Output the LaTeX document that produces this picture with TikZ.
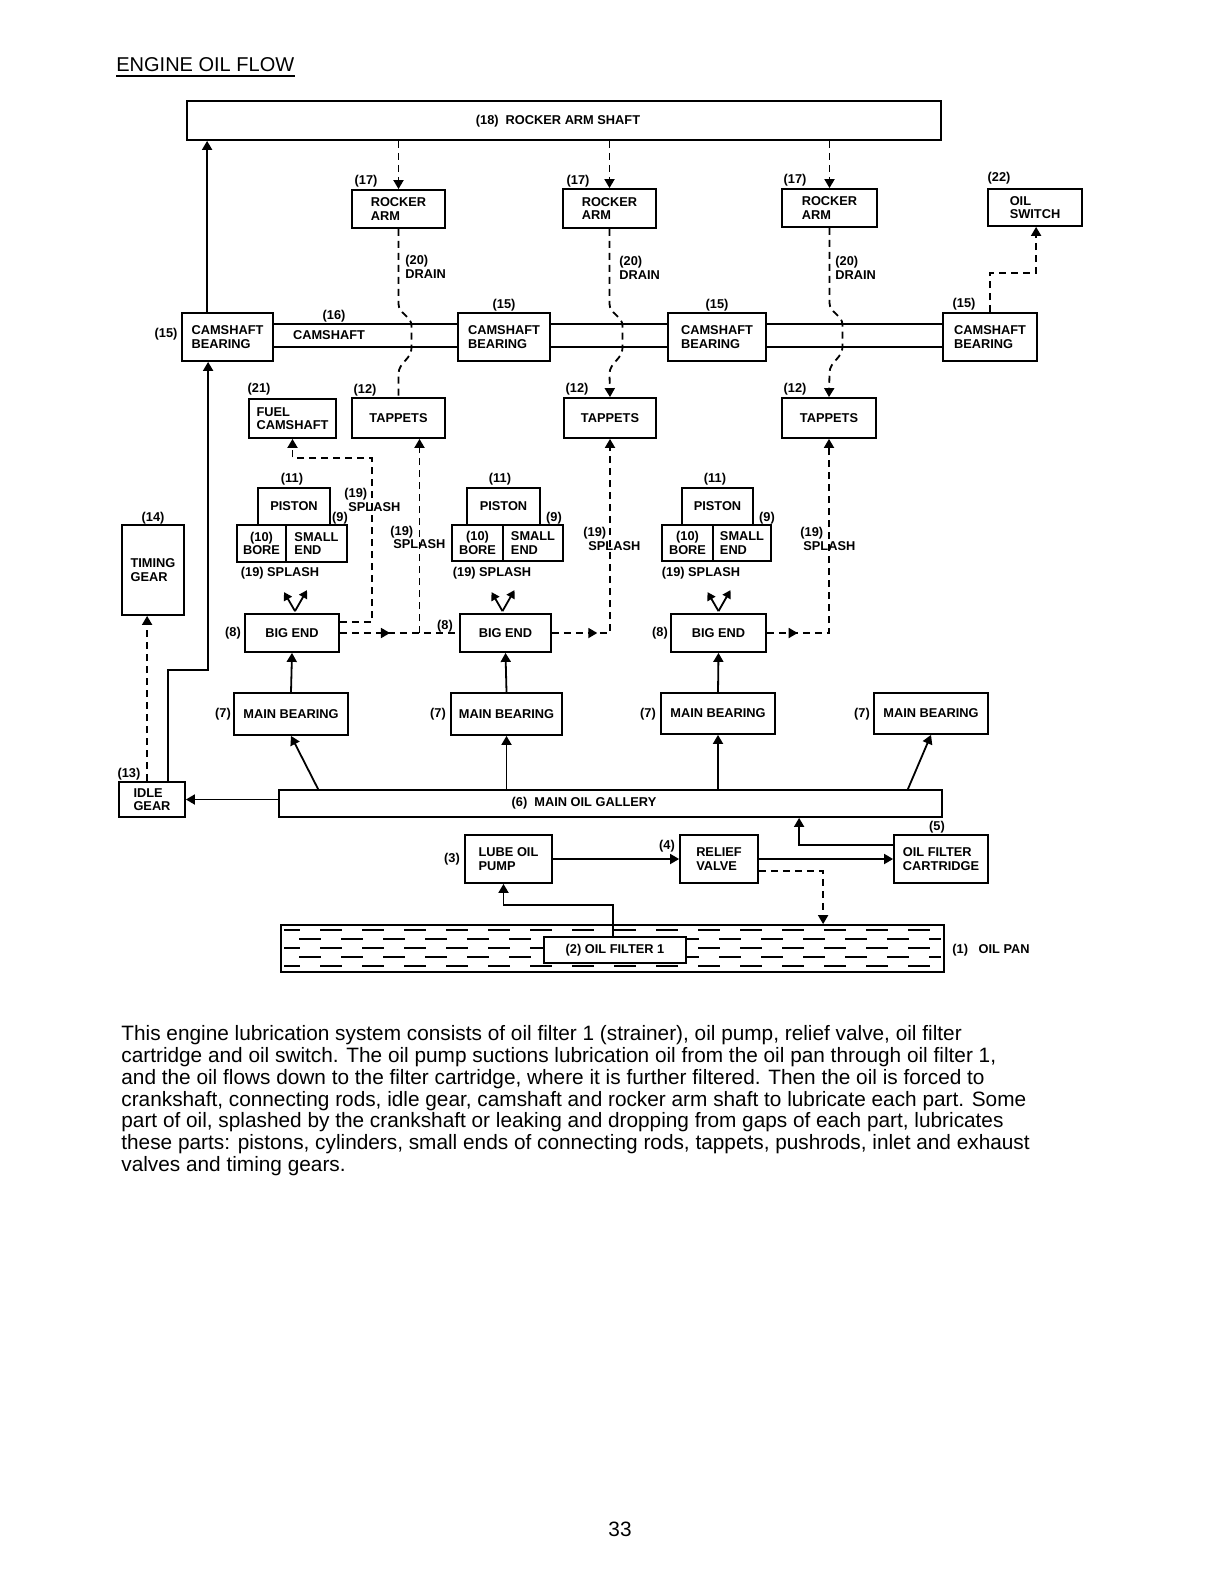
\documentclass[tikz,border=0pt]{standalone}
\usepackage{fontspec}
\setmainfont{Liberation Sans}
\usetikzlibrary{arrows.meta,calc,decorations.markings}
\newcommand\lblfont{\fontsize{6.4}{6.7}\selectfont\bfseries}
\newcommand\bx[6]{\node[box, minimum width={(#4-#2)*0.5pt}, minimum height={(#5-#3)*0.5pt}] (#1) at ({(#2+#4)/2},{(#3+#5)/2}) {#6};}
\begin{document}
\begin{tikzpicture}[x=0.5pt,y=-0.5pt,
  lw/.style={line width=0.9pt},
  box/.style={draw, lw, fill=white, inner sep=0pt, font=\lblfont, align=left},
  cbox/.style={box, align=center},
  lbl/.style={font=\lblfont, inner sep=0pt},
  lblw/.style={lbl, anchor=west, align=left},
  flow/.style={lw, -{Triangle[length=4.5pt,width=5pt]}},
  dsh/.style={lw, dash pattern=on 3.5pt off 2.5pt},
  dflow/.style={dsh, -{Triangle[length=4.5pt,width=5pt]}},
  midarr/.style={postaction={decorate}, decoration={markings, mark=at position #1 with {\arrow{Triangle[length=4.5pt,width=5pt]}}}},
  body/.style={font=\fontsize{10.4}{11}\selectfont, inner sep=0pt, anchor=base west}
]
\useasboundingbox (0,0) rectangle (1224,1584);
\fill[white] (0,0) rectangle (1224,1584);

% title
\node[anchor=base west, inner sep=0pt, font=\fontsize{10}{12}\selectfont] (title) at (116,72) {ENGINE OIL FLOW};
\draw[line width=0.6pt] ($(title.base west)+(0,4)$) -- ($(title.base east)+(0,4)$);

% boxes
\bx{shaft}{187}{101}{941}{140}{}
\node[lbl] (shafttxt) at (558,121) {(18)\ \ ROCKER ARM SHAFT};
\bx{ra1}{352}{190}{445}{228}{ROCKER\\ARM}
\bx{ra2}{563}{189}{656}{228}{ROCKER\\ARM}
\bx{ra3}{782}{189}{877}{227}{ROCKER\\ARM}
\bx{osw}{988}{189}{1082}{226}{OIL\\SWITCH}

% camshaft lines
\draw[lw] (182,324) coordinate (cs0) -- (1037,324);
\draw[lw] (182,347) -- (1037,347);

\bx{brg1}{182}{313}{273}{361}{CAMSHAFT\\BEARING}
\bx{brg2}{458}{313}{550}{361}{CAMSHAFT\\BEARING}
\bx{brg3}{668}{313}{766}{361}{CAMSHAFT\\BEARING}
\bx{brg4}{943}{313}{1037}{361}{CAMSHAFT\\BEARING}

\bx{fuel}{249}{399}{336}{438}{FUEL\\CAMSHAFT}
\bx{tap1}{352}{398}{445}{438}{TAPPETS}
\bx{tap2}{564}{398}{656}{438}{TAPPETS}
\bx{tap3}{782}{398}{876}{438}{TAPPETS}

\bx{timing}{122}{525}{184}{615}{TIMING\\GEAR}

\bx{pis1}{258}{488}{330}{525}{PISTON}
\node[cbox, minimum width={49*0.5pt}, minimum height={37*0.5pt}] (bore1) at (261.5,543.5) {(10)\\BORE};
\bx{sme1}{286}{525}{347}{562}{SMALL\\END}
\bx{pis2}{467}{488}{540}{525}{PISTON}
\node[cbox, minimum width={51*0.5pt}, minimum height={36*0.5pt}] (bore2) at (477.5,543) {(10)\\BORE};
\bx{sme2}{503}{525}{563}{561}{SMALL\\END}
\bx{pis3}{682}{488}{753}{525}{PISTON}
\node[cbox, minimum width={51*0.5pt}, minimum height={36*0.5pt}] (bore3) at (687.5,543) {(10)\\BORE};
\bx{sme3}{713}{525}{771}{561}{SMALL\\END}

\bx{be1}{245}{614}{339}{652}{BIG END}
\bx{be2}{460}{614}{551}{652}{BIG END}
\bx{be3}{671}{614}{766}{652}{BIG END}

\bx{mb1}{234}{693}{348}{735}{MAIN BEARING}
\bx{mb2}{451}{693}{562}{735}{MAIN BEARING}
\bx{mb3}{661}{693}{775}{734}{MAIN BEARING}
\bx{mb4}{874}{693}{988}{734}{MAIN BEARING}

\bx{idle}{119}{782}{185}{817}{IDLE\\GEAR}
\bx{gallery}{279}{790}{942}{817}{}
\node[lbl] (galtxt) at (584,803) {(6)\ \ MAIN OIL GALLERY};

\bx{pump}{465}{835}{552}{883}{LUBE OIL\\PUMP}
\bx{relief}{680}{835}{758}{883}{RELIEF\\VALVE}
\bx{cart}{894}{835}{988}{883}{OIL FILTER\\CARTRIDGE}

% oil pan
\node[draw, lw, inner sep=0pt, minimum width={663*0.5pt}, minimum height={47*0.5pt}] (pan) at (612.5,948.5) {};
\foreach \yy/\ph in {930/3, 939/13.5, 948/3, 957/13.5, 966/3}
  \draw[lw, dash pattern=on 11pt off 10pt, dash phase=\ph pt] (284,\yy) -- (941,\yy);
\bx{filt}{544}{937}{686}{963}{(2) OIL FILTER 1}

% labels
\node[lbl] (l17a) at (366,181) {(17)};
\node[lbl] (l17b) at (578,181) {(17)};
\node[lbl] (l17c) at (795,180) {(17)};
\node[lblw] (l20a) at (405,267) {(20)\\DRAIN};
\node[lblw] (l20b) at (619,268) {(20)\\DRAIN};
\node[lblw] (l20c) at (835,268) {(20)\\DRAIN};
\node[lbl] (l22) at (999,178) {(22)};
\node[lbl] (l15a) at (166,334) {(15)};
\node[lbl] (l15b) at (504,305) {(15)};
\node[lbl] (l15c) at (717,305) {(15)};
\node[lbl] (l15d) at (964,304) {(15)};
\node[lbl] (l16) at (334,316) {(16)};
\node[lbl] (camtxt) at (329,335) {CAMSHAFT};
\node[lbl] (l21) at (259,389) {(21)};
\node[lbl] (l12a) at (365,390) {(12)};
\node[lbl] (l12b) at (577,389) {(12)};
\node[lbl] (l12c) at (795,389) {(12)};
\node[lbl] (l11a) at (292,479) {(11)};
\node[lbl] (l11b) at (500,479) {(11)};
\node[lbl] (l11c) at (715,479) {(11)};
\node[lbl] (l9a) at (340,518) {(9)};
\node[lbl] (l9b) at (554,518) {(9)};
\node[lbl] (l9c) at (767,518) {(9)};
\node[lbl] (s19a) at (280,573) {(19) SPLASH};
\node[lbl] (s19b) at (492,573) {(19) SPLASH};
\node[lbl] (s19c) at (701,573) {(19) SPLASH};
\node[lblw] (f19n) at (344,494) {(19)};
\node[lblw] (f19s) at (348,507) {SPLASH};
\node[lblw] (t19n) at (390,532) {(19)};
\node[lblw] (t19s) at (393,544) {SPLASH};
\node[lblw] (u19n) at (583,533) {(19)};
\node[lblw] (u19s) at (588,546) {SPLASH};
\node[lblw] (v19n) at (800,533) {(19)};
\node[lblw] (v19s) at (803,546) {SPLASH};
\node[lbl] (l8a) at (233,633) {(8)};
\node[lbl] (l8b) at (445,626) {(8)};
\node[lbl] (l8c) at (660,633) {(8)};
\node[lbl] (l7a) at (223,714) {(7)};
\node[lbl] (l7b) at (438,714) {(7)};
\node[lbl] (l7c) at (648,714) {(7)};
\node[lbl] (l7d) at (862,714) {(7)};
\node[lbl] (l14) at (153,518) {(14)};
\node[lbl] (l13) at (129,774) {(13)};
\node[lbl] (l3) at (452,859) {(3)};
\node[lbl] (l4) at (667,846) {(4)};
\node[lbl] (l5) at (937,827) {(5)};
\node[lblw] (l1) at (952,950) {(1)\ \ \ OIL PAN};

% rocker arm shaft feeds
\coordinate (c1) at ($(brg1.north west)+(26,0)$);
\draw[flow] (c1) -- (c1 |- shaft.south);
\draw[dflow] (ra1.north |- shaft.south) -- (ra1.north);
\draw[dflow] (ra2.north |- shaft.south) -- (ra2.north);
\draw[dflow] (ra3.north |- shaft.south) -- (ra3.north);

% drains
\draw[dsh] (ra1.south) -- ++(0,75) to[out=-90,in=90] ++(13,22) -- ++(0,22) to[out=-90,in=90] ++(-13,26) -- (tap1.north);
\draw[dflow] (ra2.south) -- ++(0,75) to[out=-90,in=90] ++(13,22) -- ++(0,22) to[out=-90,in=90] ++(-13,26) -- (tap2.north);
\draw[dflow] (ra3.south) -- ++(0,75) to[out=-90,in=90] ++(13,22) -- ++(0,22) to[out=-90,in=90] ++(-13,26) -- (tap3.north);

% oil switch
\coordinate (s1) at ($(brg4.north west)+(48,0)$);
\coordinate (s2) at ($(osw.south west)+(49,0)$);
\draw[dflow] (s1) -- ($(s1)+(0,-39)$) -| (s2);

% idle gear feeds
\coordinate (c2) at ($(idle.north west)+(50,0)$);
\coordinate (c3) at ($(brg1.south west)+(27,0)$);
\draw[flow] (c2) -- ($(c2)+(0,-111)$) -| (c3);
\coordinate (c4) at ($(idle.north west)+(29,0)$);
\draw[dflow] (c4) -- (c4 |- timing.south);
\draw[flow] (gallery.west |- idle.east) -- (idle.east);

% splash unit 1
\coordinate (f1) at ($(be1.east)+(0,-11)$);
\draw[dflow] (f1) -- ++(32,0) |- ($(fuel.south)+(0,19)$) -- (fuel.south);
\draw[dsh, midarr=0.42] (be1.east) -- (be2.west);
\coordinate (t1) at ($(tap1.south)+(21,0)$);
\draw[dflow] (t1 |- be1.east) -- (t1);
% splash units 2, 3
\draw[dflow, midarr=0.18] (be2.east) -| (tap2.south);
\draw[dflow, midarr=0.12] (be3.east) -| (tap3.south);

% splash arrows
\foreach \b/\dx in {be1/3, be2/-3, be3/0}{
  \draw[lw, -{Triangle[length=4pt,width=4.5pt]}] ($(\b.north)+(\dx,-2)$) -- ++(-11,-19);
  \draw[lw, -{Triangle[length=4pt,width=4.5pt]}] ($(\b.north)+(\dx,-2)$) -- ++(12,-21);
}

% main bearings to big ends
\draw[flow] (mb1.north) -- (be1.south);
\draw[flow] (mb2.north) -- (be2.south);
\draw[flow] (mb3.north) -- (be3.south);

% gallery to main bearings
\coordinate (g1) at ($(gallery.north west)+(40,0)$);
\draw[flow] (g1) -- (mb1.south);
\draw[flow] (mb2.south |- gallery.north) -- (mb2.south);
\draw[flow] (mb3.south |- gallery.north) -- (mb3.south);
\coordinate (g4) at ($(gallery.north east)+(-35,0)$);
\draw[flow] (g4) -- (mb4.south);

% pump circuit
\coordinate (p2) at ($(pump.south)+(-5,0)$);
\draw[flow] ($(filt.north)+(-2,0)$) -- ++(0,-31) -| (p2);
\draw[flow] (pump.east) -- (relief.west);
\draw[flow] (relief.east) -- (relief.east -| cart.west);
\coordinate (p1) at ($(pan.north west)+(543,0)$);
\draw[dflow] ($(relief.east)+(0,12)$) -| (p1);
\coordinate (g5) at ($(gallery.south west)+(521,0)$);
\draw[flow] ($(cart.west)+(0,-14)$) -| (g5);

% body text
\node[body] (b1) at (121,1040) {This engine lubrication system consists of oil filter 1 (strainer), oil pump, relief valve, oil filter};
\node[body] (b2) at (121,1062) {cartridge and oil switch. The oil pump suctions lubrication oil from the oil pan through oil filter 1,};
\node[body] (b3) at (121,1084) {and the oil flows down to the filter cartridge, where it is further filtered. Then the oil is forced to};
\node[body] (b4) at (121,1106) {crankshaft, connecting rods, idle gear, camshaft and rocker arm shaft to lubricate each part. Some};
\node[body] (b5) at (121,1127) {part of oil, splashed by the crankshaft or leaking and dropping from gaps of each part, lubricates};
\node[body] (b6) at (121,1149) {these parts: pistons, cylinders, small ends of connecting rods, tappets, pushrods, inlet and exhaust};
\node[body] (b7) at (121,1171) {valves and timing gears.};
\node[font=\fontsize{10.4}{11}\selectfont, inner sep=0pt] (pg) at (620,1529) {33};
\end{tikzpicture}
\end{document}
